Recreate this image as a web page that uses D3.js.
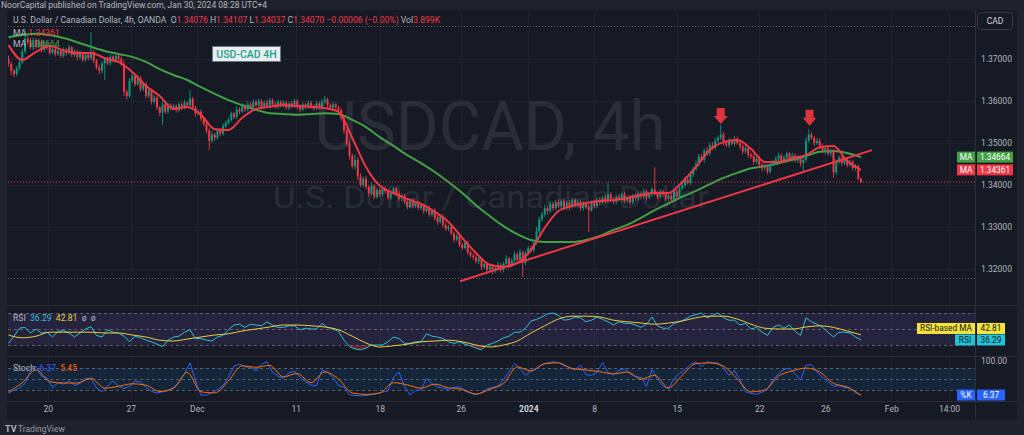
<!DOCTYPE html>
<html><head><meta charset="utf-8">
<script src="https://cdn.jsdelivr.net/npm/d3@7/dist/d3.min.js"></script>
<style>
html,body{margin:0;padding:0;background:#1f222d;overflow:hidden}
svg{display:block}
text{font-family:Roboto,"Liberation Sans",sans-serif;white-space:pre}
</style></head><body>
<svg id="chart" width="1024" height="435"></svg>
<script>
// ---------------- DATA ----------------
const firstOpen = 1.3700;
const closes = [
1.3688,1.3672,1.3664,1.3678,1.3692,1.3718,1.3748,1.3740,1.3728,1.3745,
1.3730,1.3742,1.3722,1.3735,1.3728,1.3715,1.3724,1.3712,1.3720,1.3708,
1.3722,1.3714,1.3728,1.3710,1.3718,1.3704,1.3714,1.3698,1.3710,1.3702,
1.3716,1.3696,1.3680,1.3672,1.3690,1.3700,1.3690,1.3706,1.3696,1.3708,
1.3700,1.3688,1.3622,1.3612,1.3648,1.3660,1.3640,1.3655,1.3628,1.3640,
1.3612,1.3625,1.3598,1.3608,1.3585,1.3572,1.3592,1.3575,1.3590,1.3582,
1.3588,1.3578,1.3592,1.3584,1.3596,1.3590,1.3605,1.3585,1.3570,1.3575,
1.3558,1.3545,1.3530,1.3505,1.3520,1.3512,1.3530,1.3522,1.3540,1.3548,
1.3555,1.3570,1.3562,1.3580,1.3575,1.3588,1.3580,1.3592,1.3585,1.3598,
1.3590,1.3600,1.3585,1.3596,1.3588,1.3602,1.3592,1.3586,1.3598,1.3590,
1.3596,1.3584,1.3594,1.3588,1.3600,1.3586,1.3580,1.3592,1.3585,1.3596,
1.3588,1.3582,1.3594,1.3586,1.3598,1.3604,1.3590,1.3584,1.3592,1.3585,
1.3578,1.3560,1.3530,1.3498,1.3470,1.3445,1.3460,1.3420,1.3400,1.3415,
1.3395,1.3380,1.3398,1.3372,1.3388,1.3378,1.3392,1.3385,1.3370,1.3380,
1.3392,1.3380,1.3368,1.3375,1.3360,1.3348,1.3362,1.3350,1.3358,1.3345,
1.3352,1.3338,1.3345,1.3330,1.3340,1.3322,1.3312,1.3325,1.3305,1.3296,
1.3300,1.3285,1.3270,1.3278,1.3258,1.3250,1.3262,1.3240,1.3232,1.3228,
1.3218,1.3225,1.3205,1.3212,1.3198,1.3206,1.3195,1.3202,1.3210,1.3198,
1.3212,1.3225,1.3208,1.3220,1.3235,1.3222,1.3240,1.3215,1.3238,1.3250,
1.3245,1.3262,1.3290,1.3318,1.3330,1.3345,1.3338,1.3355,1.3345,1.3360,
1.3350,1.3362,1.3345,1.3358,1.3348,1.3365,1.3352,1.3360,1.3345,1.3355,
1.3348,1.3340,1.3358,1.3350,1.3365,1.3358,1.3370,1.3362,1.3378,1.3365,
1.3360,1.3372,1.3365,1.3378,1.3362,1.3370,1.3358,1.3375,1.3368,1.3380,
1.3372,1.3385,1.3370,1.3378,1.3390,1.3380,1.3372,1.3385,1.3378,1.3368,
1.3375,1.3365,1.3385,1.3372,1.3392,1.3400,1.3412,1.3405,1.3425,1.3438,
1.3450,1.3468,1.3460,1.3482,1.3475,1.3495,1.3488,1.3505,1.3512,1.3520,
1.3500,1.3495,1.3505,1.3498,1.3510,1.3500,1.3492,1.3480,1.3488,1.3472,
1.3468,1.3455,1.3462,1.3448,1.3440,1.3445,1.3432,1.3448,1.3455,1.3462,
1.3470,1.3458,1.3465,1.3475,1.3462,1.3470,1.3458,1.3465,1.3452,1.3460,
1.3505,1.3520,1.3512,1.3500,1.3505,1.3492,1.3480,1.3488,1.3475,1.3482,
1.3430,1.3455,1.3465,1.3452,1.3460,1.3448,1.3455,1.3440,1.3445,1.3415,1.3407];
// upper / lower wick lengths in pips beyond the candle body
const wickUp = [
8,5,4,6,5,6,25,8,10,6, 5,7,4,6,5,3,6,4,5,3, 6,4,7,3,5,4,6,3,5,4, 48,5,4,6,5,4,6,5,3,6,
4,6,8,5,7,6,4,8,5,6, 5,8,4,6,5,3,7,5,6,4, 5,4,6,5,7,4,21,5,4,6, 5,4,6,5,8,4,6,5,7,5,
6,5,4,7,5,6,4,8,5,6, 5,6,4,5,7,5,4,6,5,4, 6,5,4,7,5,4,6,5,4,6, 5,4,6,5,7,8,4,5,6,4,
4,5,6,4,8,5,12,6,8,5, 6,5,8,4,6,5,7,5,4,6, 5,4,6,5,4,7,5,6,4,5, 6,4,5,7,4,5,6,4,5,6,
5,6,4,5,7,4,6,5,4,5, 6,5,4,7,5,4,6,5,7,4, 5,8,4,6,7,5,8,4,6,5, 6,8,10,7,6,8,5,7,6,5,
6,4,7,5,6,5,4,6,5,7, 4,6,5,7,5,6,4,7,29,5, 6,5,7,4,6,5,7,4,6,5, 5,7,4,6,5,53,6,5,4,6,
5,6,4,7,5,6,8,5,7,6, 8,6,7,5,8,6,7,8,6,23, 6,5,7,4,6,5,7,5,6,4, 5,6,4,7,5,6,4,6,5,6,
7,5,6,5,4,6,5,7,5,6, 8,13,6,5,7,5,6,4,6,5, 4,6,5,7,4,6,5,4,5,3,2];
const wickDn = [
6,10,8,5,6,4,5,6,5,7, 6,4,7,5,6,5,4,6,5,6, 5,6,4,6,5,7,4,6,5,6, 5,6,5,8,6,40,5,6,4,5,
6,5,10,8,4,6,5,4,6,5, 6,5,7,4,6,8,29,5,6,5, 4,6,5,6,4,5,6,5,7,4, 6,5,8,22,5,7,4,6,5,4,
5,4,6,5,7,4,6,5,4,6, 4,5,6,4,5,6,5,4,6,5, 5,4,6,5,4,6,7,4,5,4, 6,5,4,6,5,4,6,5,4,6,
5,7,8,6,10,6,8,8,5,6, 5,7,4,6,5,8,4,6,5,6, 4,6,5,7,5,6,4,6,5,5, 5,7,4,6,5,6,7,4,6,5,
6,5,7,4,6,5,4,7,5,6, 5,6,8,5,7,6,8,5,6,7, 6,5,7,4,6,5,8,34,6,5, 5,6,4,7,5,6,8,5,6,5,
5,7,6,5,8,4,6,5,7,6, 5,52,4,6,5,7,4,6,5,6, 5,6,4,7,5,6,5,4,6,5, 6,5,7,4,6,5,6,4,7,5,
6,8,5,6,4,5,6,4,5,6, 5,6,4,7,5,6,5,4,6,5, 6,5,7,4,6,5,7,6,5,8, 6,7,5,6,8,5,6,5,4,6,
5,6,4,6,5,7,5,6,8,21, 6,4,5,7,5,6,4,6,5,7, 13,6,5,7,5,6,4,5,6,4,3];
// moving averages sampled every 5 bars
const maStep = 5;
const redMA = [1.3733,1.3698,1.3717,1.3731,1.3721,1.3714,1.3714,1.3702,1.3693,1.3669,
1.3636,1.3612,1.3581,1.3586,1.3567,1.3533,1.3531,1.3560,1.3581,1.3586,
1.3590,1.3588,1.3586,1.3583,1.3574,1.3512,1.3443,1.3398,1.3381,1.3367,
1.3355,1.3336,1.3312,1.3274,1.3238,1.3210,1.3205,1.3214,1.3245,1.3298,
1.3338,1.3350,1.3357,1.3362,1.3364,1.3369,1.3376,1.3381,1.3381,1.3407,
1.3443,1.3483,1.3502,1.3507,1.3486,1.3455,1.3455,1.3464,1.3471,1.3490,
1.3493,1.3457,1.34361];
const greenMA = [1.3752,1.3757,1.3760,1.3757,1.3750,1.3740,1.3729,1.3719,1.3712,1.3705,
1.3693,1.3676,1.3662,1.3650,1.3633,1.3617,1.3602,1.3590,1.3579,1.3571,
1.3569,1.3567,1.3569,1.3571,1.3569,1.3555,1.3538,1.3514,1.3493,1.3471,
1.3452,1.3431,1.3407,1.3381,1.3352,1.3326,1.3302,1.3283,1.3269,1.3264,
1.3264,1.3264,1.3269,1.3279,1.3293,1.3305,1.3322,1.3340,1.3356,1.3372,
1.3386,1.3402,1.3417,1.3429,1.3440,1.3445,1.3452,1.3460,1.3469,1.3479,
1.3481,1.3476,1.34664];
// oscillators: RSI and %K every 2 bars, their averages every 5 bars
const oscStep = 2;
const rsiVals = [32,41,51,52,45,50,45,46,40,47, 48,45,40,45,50,53,42,40,49,46,
45,41,34,41,39,36,34,31,28,36, 40,41,46,49,38,38,36,35,40,42,
49,55,56,52,56,55,54,59,55,52, 52,54,54,49,51,50,50,57,52,50,
47,36,28,25,24,26,30,30,30,34, 40,38,32,32,34,34,44,41,40,38,
34,32,34,31,29,26,24,30,32,35, 39,41,46,46,51,60,62,65,69,70,
67,61,62,65,64,59,61,65,62,59, 55,59,57,57,55,52,56,65,54,51,
51,57,59,62,66,68,70,64,67,70, 64,61,61,55,57,50,52,46,42,52,
55,51,55,47,42,64,59,56,52,46, 40,46,46,45,40,36.29];
const rsiMAVals = [42.5,39,41,46,46,46,46,45,45,42.5, 40,36,35,37.5,40,42.5,44,47.5,50,52.5,
55,55,54,52.5,49,41,32.5,27.5,29,31, 34,35,36,34,30,27.5,30,35,45,54,
62.5,66,66,65,61,59,57.5,56,57.5,60, 64,66,66,62.5,56,51,50,50,52.5,54,
52,47.5,42.81];
const stochK = [12,19,25,38,72,85,58,53,27,40, 36,45,33,38,52,50,26,15,30,45,
31,24,30,44,42,27,16,12,15,18, 27,40,65,94,45,6,6,13,21,32,
55,85,91,83,82,72,90,97,69,58, 52,67,71,55,42,33,32,75,68,55,
32,28,7,5,4,5,7,10,14,18, 55,69,30,6,19,20,52,37,28,25,
21,28,28,17,11,7,13,23,27,30, 48,70,92,80,60,72,80,88,94,97,
95,86,82,75,88,62,60,68,95,68, 62,73,78,65,56,55,30,75,50,30,
23,52,65,76,90,96,84,97,94,94, 80,60,73,47,15,11,8,14,22,47,
65,76,80,64,47,88,89,69,54,43, 30,32,27,25,12,6.37];
const stochD = [15,40,75,43,39,39,52,25,30,37, 33,16,25,68,15,12,45,86,82,87,
56,65,40,69,50,12,8,12,40,34, 25,36,26,22,9,22,38,83,72,92,
94,78,75,70,64,69,50,60,26,60, 92,94,85,50,15,20,58,72,80,69,
38,28,5.45];
const priceTicks = [1.37,1.36,1.35,1.34,1.33,1.32];
const timeTicks = [14.3,44.5,68.5,104.5,135,164.5,189,213,243,273,297,321,342];
const timeLabels = ["20","27","Dec","11","18","26","2024","8","15","22","26","Feb","14:00"];
const trendLine = [[164.2,1.3171],[314,1.3483]];
const arrowMarks = [[259,1.3545],[291.3,1.3541]];
const rangeMarks = [1.3779,1.3179];
const lastPrice = 1.3407;
const ohlcLabels = ["O","H","L","C"];
const ohlcValues = ["1.34076","1.34107","1.34037","1.34070"];

// ---------------- DRAW ----------------
const svg = d3.select('#chart');
const COL = {bg:'#161a25', outer:'#1f222d', grid:'#20242e', sep:'#2a2e39', text:'#b2b5be',
  up:'#089981', down:'#f23645', green:'#43a047', rsi:'#2fbfd2', rsiMA:'#e8cf3c', k:'#2962ff', d:'#ff6d00'};
const PL = 8, PR = 975;
const pane = {main:[11,304], rsi:[306,355], st:[357,400]};

svg.append('rect').attr('width',1024).attr('height',435).attr('fill',COL.outer);
svg.append('rect').attr('x',7).attr('y',10).attr('width',1010).attr('height',410).attr('fill',COL.bg);

const x = d3.scaleLinear().domain([0,310]).range([8.5,861]);
const y = d3.scaleLinear().domain([1.32,1.37]).range([269,59]);
const yR = d3.scaleLinear().domain([30,70]).range([345,313]);
const yS = d3.scaleLinear().domain([20,80]).range([390,368]);

const defs = svg.append('defs');
Object.entries(pane).forEach(([k,[a,b]])=>{
  defs.append('clipPath').attr('id','clip-'+k).append('rect').attr('x',PL).attr('y',a).attr('width',PR-PL).attr('height',b-a);
});
defs.append('clipPath').attr('id','clip-os').append('rect').attr('x',PL).attr('y',yR(30)).attr('width',PR-PL).attr('height',20);

// separators
svg.append('g').selectAll('line').data([305,356,401]).join('line')
  .attr('x1',7).attr('x2',1017).attr('y1',d=>d+0.5).attr('y2',d=>d+0.5).attr('stroke',COL.sep);
svg.append('line').attr('x1',PR+0.5).attr('x2',PR+0.5).attr('y1',10).attr('y2',420).attr('stroke',COL.sep);

// grid
const grid = svg.append('g');
grid.selectAll('.hg').data(priceTicks).join('line').attr('x1',PL).attr('x2',PR)
  .attr('y1',d=>Math.round(y(d))+0.5).attr('y2',d=>Math.round(y(d))+0.5).attr('stroke',COL.grid);
Object.values(pane).forEach(([a,b])=>{
  grid.append('g').selectAll('line').data(timeTicks).join('line')
    .attr('x1',d=>Math.round(x(d))+0.5).attr('x2',d=>Math.round(x(d))+0.5).attr('y1',a).attr('y2',b).attr('stroke',COL.grid);
});

// range dotted lines
svg.append('g').selectAll('line').data(rangeMarks).join('line').attr('x1',PL).attr('x2',PR)
  .attr('y1',d=>Math.round(y(d))+0.5).attr('y2',d=>Math.round(y(d))+0.5)
  .attr('stroke','#5d606b').attr('stroke-dasharray','1,2');

// watermark
svg.append('text').attr('x',490).attr('y',150).attr('text-anchor','middle').attr('font-size',68)
  .attr('textLength',351).attr('lengthAdjust','spacingAndGlyphs').attr('fill','#2a2e39').text('USDCAD, 4h');
svg.append('text').attr('x',491).attr('y',208).attr('text-anchor','middle').attr('font-size',32)
  .attr('textLength',436).attr('lengthAdjust','spacingAndGlyphs').attr('fill','#282c37').text('U.S. Dollar / Canadian Dollar');

const gMain = svg.append('g').attr('clip-path','url(#clip-main)');
const maLine = d3.line().x((d,i)=>x(i*maStep)).y(d=>y(d)).curve(d3.curveMonotoneX);
gMain.append('path').attr('d',maLine(greenMA)).attr('fill','none').attr('stroke',COL.green).attr('stroke-width',2);

// candles
const candles = closes.map((c,i)=>{const o=i?closes[i-1]:firstOpen;
  return {i,o,c,h:Math.max(o,c)+wickUp[i]/1e4,l:Math.min(o,c)-wickDn[i]/1e4};});
const gc = gMain.append('g');
gc.selectAll('line').data(candles).join('line')
  .attr('x1',d=>x(d.i)).attr('x2',d=>x(d.i)).attr('y1',d=>y(d.h)).attr('y2',d=>y(d.l))
  .attr('stroke',d=>d.c>=d.o?COL.up:COL.down).attr('stroke-width',0.9);
gc.selectAll('rect').data(candles).join('rect')
  .attr('x',d=>x(d.i)-1).attr('width',2)
  .attr('y',d=>y(Math.max(d.o,d.c))).attr('height',d=>Math.max(0.8,Math.abs(y(d.o)-y(d.c))))
  .attr('fill',d=>d.c>=d.o?COL.up:COL.down);

gMain.append('path').attr('d',maLine(redMA)).attr('fill','none').attr('stroke',COL.down).attr('stroke-width',2);

// trend line
gMain.append('line').attr('x1',x(trendLine[0][0])).attr('y1',y(trendLine[0][1]))
  .attr('x2',x(trendLine[1][0])).attr('y2',y(trendLine[1][1])).attr('stroke',COL.down).attr('stroke-width',2);

// arrows
gMain.selectAll('.arr').data(arrowMarks).join('path').attr('fill','#dc3540')
  .attr('d',d=>{const cx=x(d[0]),t=y(d[1]);
    return `M${cx-4},${t-16}L${cx+4},${t-16}L${cx+4},${t-8}L${cx+7},${t-8}L${cx},${t}L${cx-7},${t-8}L${cx-4},${t-8}Z`;});

// last price line
svg.append('line').attr('x1',PL).attr('x2',PR).attr('y1',y(lastPrice)).attr('y2',y(lastPrice))
  .attr('stroke',COL.down).attr('stroke-dasharray','1,2').attr('opacity',0.9);

// price axis
const pa = svg.append('g').attr('transform',`translate(${PR+3},0)`)
  .call(d3.axisRight(y).tickValues(priceTicks).tickSize(0).tickPadding(3).tickFormat(d3.format('.5f')));
pa.select('.domain').remove();
pa.selectAll('text').attr('fill',COL.text).attr('font-size',8.5).attr('font-family','Roboto,sans-serif');

// header
const hdr = svg.append('text').attr('x',13).attr('y',23).attr('font-size',8.6);
hdr.append('tspan').attr('fill','#b2b5be').text('U.S. Dollar / Canadian Dollar, 4h, OANDA  ');
ohlcLabels.forEach((l,i)=>{hdr.append('tspan').attr('fill','#b2b5be').text((i?' ':'')+l);
  hdr.append('tspan').attr('fill',COL.down).text(ohlcValues[i]);});
hdr.append('tspan').attr('fill',COL.down).text(' \u22120.00006 (\u22120.00%)');
hdr.append('tspan').attr('fill','#b2b5be').text(' Vol');
hdr.append('tspan').attr('fill',COL.down).text('3.899K');

[[35.5,redMA[redMA.length-1],COL.down],[47,greenMA[greenMA.length-1],COL.green]].forEach(([yy,v,c])=>{
  const t=svg.append('text').attr('x',13).attr('y',yy).attr('font-size',8.6);
  t.append('tspan').attr('fill','#b2b5be').text('MA ');
  t.append('tspan').attr('fill',c).text(v.toFixed(5));
});

// publish line & footer
svg.append('text').attr('x',1).attr('y',7.5).attr('font-size',8.5).attr('fill','#b2b5be')
  .text('NoorCapital published on TradingView.com, Jan 30, 2024 08:28 UTC+4');
svg.append('text').attr('x',5).attr('y',432).attr('font-size',9).attr('font-weight',700).attr('fill','#b2b5be').text('TV');
svg.append('text').attr('x',18).attr('y',432).attr('font-size',8.5).attr('fill','#9598a1').text('TradingView');

// label box
svg.append('rect').attr('x',212.5).attr('y',46.5).attr('width',68).attr('height',15).attr('fill','#e8edf0').attr('stroke','#6c7480');
svg.append('text').attr('x',246.5).attr('y',57.5).attr('text-anchor','middle').attr('font-size',10.5).attr('font-weight',500)
  .attr('fill','#1ea08b').text('USD-CAD 4H');

// CAD button
svg.append('rect').attr('x',977.5).attr('y',12.5).attr('width',35).attr('height',17).attr('rx',3)
  .attr('fill','none').attr('stroke','#363a45');
svg.append('text').attr('x',995).attr('y',24).attr('text-anchor','middle').attr('font-size',8.5).attr('fill','#d1d4dc').text('CAD');

// right side value tags
function tag(cy, name, nameX, val, color, txtColor){
  svg.append('rect').attr('x',nameX).attr('y',cy-5.5).attr('width',975-nameX).attr('height',11).attr('fill',color);
  svg.append('text').attr('x',(nameX+975)/2).attr('y',cy+3).attr('text-anchor','middle').attr('font-size',8.3).attr('fill',txtColor).text(name);
  svg.append('rect').attr('x',977).attr('y',cy-5.5).attr('width',val.length>6?36:28).attr('height',11).attr('fill',color);
  svg.append('text').attr('x',977+(val.length>6?18:14)).attr('y',cy+3).attr('text-anchor','middle').attr('font-size',8.3).attr('fill',txtColor).text(val);
}
tag(y(greenMA[greenMA.length-1]),'MA',957,greenMA[greenMA.length-1].toFixed(5),COL.green,'#fff');
tag(y(redMA[redMA.length-1]),'MA',957,redMA[redMA.length-1].toFixed(5),COL.down,'#fff');

// ---------- RSI pane ----------
const gR = svg.append('g').attr('clip-path','url(#clip-rsi)');
gR.append('rect').attr('x',PL).attr('width',PR-PL).attr('y',yR(70)).attr('height',yR(30)-yR(70)).attr('fill','rgba(126,87,194,0.16)');
gR.selectAll('.dl').data([70,50,30]).join('line').attr('x1',PL).attr('x2',PR)
  .attr('y1',d=>Math.round(yR(d))+0.5).attr('y2',d=>Math.round(yR(d))+0.5)
  .attr('stroke','#787b86').attr('stroke-dasharray','3,3').attr('opacity',0.7);
const rsiLine = d3.line().x((d,i)=>x(i*oscStep)).y(d=>yR(d));
const rsiArea = d3.area().x((d,i)=>x(i*oscStep)).y0(yR(30)).y1(d=>yR(d));
gR.append('path').attr('clip-path','url(#clip-os)').attr('d',rsiArea(rsiVals)).attr('fill','rgba(242,54,69,0.35)');
gR.append('path').attr('d',rsiLine(rsiVals)).attr('fill','none').attr('stroke',COL.rsi).attr('stroke-width',1);
gR.append('path').attr('d',d3.line().x((d,i)=>x(i*maStep)).y(d=>yR(d)).curve(d3.curveMonotoneX)(rsiMAVals))
  .attr('fill','none').attr('stroke',COL.rsiMA).attr('stroke-width',1);
const rl = svg.append('text').attr('x',13).attr('y',321).attr('font-size',8.6);
rl.append('tspan').attr('fill','#b2b5be').text('RSI  ');
rl.append('tspan').attr('fill',COL.rsi).text(rsiVals[rsiVals.length-1].toFixed(2)+'  ');
rl.append('tspan').attr('fill',COL.rsiMA).text(rsiMAVals[rsiMAVals.length-1].toFixed(2)+'  ');
rl.append('tspan').attr('fill','#b2b5be').text('ø  ø');
const rsiY = yR(rsiVals[rsiVals.length-1]);
tag(rsiY-11.5,'RSI-based MA',917,rsiMAVals[rsiMAVals.length-1].toFixed(2),'#f5e23b','#131722');
tag(rsiY,'RSI',955,rsiVals[rsiVals.length-1].toFixed(2),'#22c3d6','#131722');

// ---------- Stoch pane ----------
const gS = svg.append('g').attr('clip-path','url(#clip-st)');
gS.append('rect').attr('x',PL).attr('width',PR-PL).attr('y',yS(80)).attr('height',yS(20)-yS(80)).attr('fill','rgba(33,150,243,0.1)');
gS.selectAll('.dl').data([80,50,20]).join('line').attr('x1',PL).attr('x2',PR)
  .attr('y1',d=>Math.round(yS(d))+0.5).attr('y2',d=>Math.round(yS(d))+0.5)
  .attr('stroke','#787b86').attr('stroke-dasharray','3,3').attr('opacity',0.7);
gS.append('path').attr('d',d3.line().x((d,i)=>x(i*oscStep)).y(d=>yS(d))(stochK))
  .attr('fill','none').attr('stroke',COL.k).attr('stroke-width',1);
gS.append('path').attr('d',d3.line().x((d,i)=>x(i*maStep)).y(d=>yS(d)).curve(d3.curveMonotoneX)(stochD))
  .attr('fill','none').attr('stroke',COL.d).attr('stroke-width',1);
const sl = svg.append('text').attr('x',13).attr('y',371).attr('font-size',8.6);
sl.append('tspan').attr('fill','#b2b5be').text('Stoch  ');
sl.append('tspan').attr('fill',COL.k).text(stochK[stochK.length-1].toFixed(2)+'  ');
sl.append('tspan').attr('fill',COL.d).text(stochD[stochD.length-1].toFixed(2));
const sa = svg.append('g').attr('transform',`translate(${PR+3},0)`)
  .call(d3.axisRight(yS).tickValues([100]).tickSize(0).tickPadding(3).tickFormat(d3.format('.2f')));
sa.select('.domain').remove();
sa.selectAll('text').attr('fill',COL.text).attr('font-size',8.5).attr('font-family','Roboto,sans-serif');
tag(yS(stochK[stochK.length-1]),'%K',957,stochK[stochK.length-1].toFixed(2),COL.k,'#fff');

// time axis
const ta = svg.append('g').attr('transform','translate(0,404)')
  .call(d3.axisBottom(x).tickValues(timeTicks).tickSize(0).tickPadding(2).tickFormat((d,i)=>timeLabels[i]));
ta.select('.domain').remove();
ta.selectAll('text').attr('fill',(d,i)=>timeLabels[i]==='2024'?'#d1d4dc':COL.text)
  .attr('font-weight',(d,i)=>timeLabels[i]==='2024'?700:400)
  .attr('font-size',8.5).attr('font-family','Roboto,sans-serif');
</script></body></html>
